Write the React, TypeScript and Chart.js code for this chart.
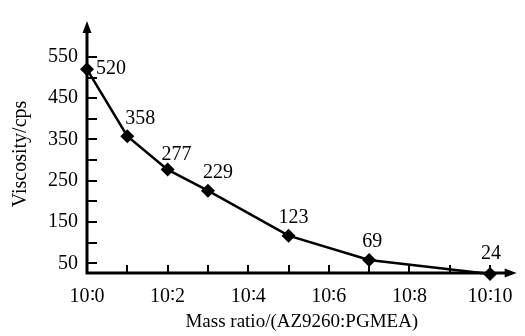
import React, { useEffect, useRef } from "react";
import { Chart, registerables } from "chart.js";

Chart.register(...registerables);

// PGMEA parts per 10 parts AZ9260
const massRatios = [0, 1, 2, 3, 5, 7, 10];
// plotted viscosity (cps) as drawn in the figure
const viscosity = [520, 358, 277, 226, 117, 58, 24];
// printed value labels
const viscosityLabels = ["520", "358", "277", "229", "123", "69", "24"];

const xTickValues = [0, 2, 4, 6, 8, 10];
const xTickLabels = ["10\u22360", "10\u22362", "10\u22364", "10\u22366", "10\u22368", "10\u223610"];
const xMinorTicks = [1, 2, 3, 4, 5, 6, 7, 8, 9, 10];
const yTickValues = [50, 150, 250, 350, 450, 550];
const yMinorTicks = [50, 100, 150, 200, 250, 300, 350, 400, 450, 500, 550];

const xTitle = "Mass ratio/(AZ9260:PGMEA)";
const yTitle = "Viscosity/cps";

const FONT = "'Liberation Serif', 'Times New Roman', serif";
const LABEL_OFFSETS: [number, number][] = [
  [24, -1],
  [13, -17],
  [9, -15],
  [10, -18],
  [5, -18],
  [3, -18],
  [1, -20],
];

const axesPlugin = {
  id: "axesPlugin",
  beforeDatasetsDraw(chart: any) {
    const { ctx, chartArea } = chart;
    const { left, right, top, bottom } = chartArea;
    const xs = chart.scales.x;
    const ys = chart.scales.y;
    ctx.save();
    ctx.strokeStyle = "#000";
    ctx.fillStyle = "#000";
    // ticks (inside)
    ctx.lineWidth = 2;
    ctx.beginPath();
    for (const v of yMinorTicks) {
      const py = Math.round(ys.getPixelForValue(v));
      ctx.moveTo(left, py);
      ctx.lineTo(left + 10, py);
    }
    for (const v of xMinorTicks) {
      const px = Math.round(xs.getPixelForValue(v));
      ctx.moveTo(px, bottom);
      ctx.lineTo(px, bottom - 8);
    }
    ctx.stroke();
    // axis lines
    ctx.lineWidth = 3;
    ctx.beginPath();
    ctx.moveTo(left, bottom + 1.5);
    ctx.lineTo(left, top + 10);
    ctx.moveTo(left - 1.5, bottom);
    ctx.lineTo(right - 9, bottom);
    ctx.stroke();
    // arrowheads
    ctx.beginPath();
    ctx.moveTo(left, top);
    ctx.lineTo(left - 4.5, top + 12);
    ctx.lineTo(left + 4.5, top + 12);
    ctx.closePath();
    ctx.fill();
    ctx.beginPath();
    ctx.moveTo(right, bottom);
    ctx.lineTo(right - 12, bottom - 4.5);
    ctx.lineTo(right - 12, bottom + 4.5);
    ctx.closePath();
    ctx.fill();
    ctx.restore();
  },
  afterDraw(chart: any) {
    const { ctx, chartArea } = chart;
    const meta = chart.getDatasetMeta(0);
    ctx.save();
    ctx.fillStyle = "#000";
    ctx.font = `20px ${FONT}`;
    ctx.textAlign = "center";
    ctx.textBaseline = "middle";
    meta.data.forEach((pt: any, i: number) => {
      const [dx, dy] = LABEL_OFFSETS[i];
      ctx.fillText(viscosityLabels[i], pt.x + dx, pt.y + dy);
    });
    // axis titles
    ctx.font = `19px ${FONT}`;
    ctx.fillText(xTitle, (chartArea.left + chartArea.right) / 2, 322);
    ctx.save();
    ctx.translate(21, 154);
    ctx.rotate(-Math.PI / 2);
    ctx.font = `20px ${FONT}`;
    ctx.fillText(yTitle, 0, 0);
    ctx.restore();
    ctx.restore();
  },
};

export default function App() {
  const ref = useRef<HTMLCanvasElement | null>(null);
  useEffect(() => {
    if (!ref.current) return;
    const chart = new Chart(ref.current, {
      type: "line",
      data: {
        datasets: [
          {
            data: massRatios.map((x, i) => ({ x, y: viscosity[i] })),
            borderColor: "#000",
            backgroundColor: "#000",
            borderWidth: 2.5,
            pointStyle: "rectRot",
            pointRadius: 7,
            pointBorderWidth: 0,
            tension: 0,
            clip: false as any,
          },
        ],
      },
      options: {
        animation: false,
        responsive: false,
        devicePixelRatio: 1,
        layout: { padding: { top: 13, right: 0, left: 0, bottom: 0 } },
        plugins: { legend: { display: false }, tooltip: { enabled: false }, title: { display: false } },
        scales: {
          x: {
            type: "linear",
            min: 0,
            max: 10.66,
            grid: { display: false, drawTicks: false },
            border: { display: false },
            afterBuildTicks: (s: any) => {
              s.ticks = xTickValues.map((v) => ({ value: v }));
            },
            afterFit: (s: any) => {
              s.height = 63;
            },
            ticks: {
              autoSkip: false,
              maxRotation: 0,
              padding: 12,
              color: "#000",
              font: { family: FONT, size: 20 },
              callback: (v: any) => xTickLabels[xTickValues.indexOf(Number(v))],
            },
          },
          y: {
            type: "linear",
            min: 26.5,
            max: 637,
            grid: { display: false, drawTicks: false },
            border: { display: false },
            afterBuildTicks: (s: any) => {
              s.ticks = yTickValues.map((v) => ({ value: v }));
            },
            afterFit: (s: any) => {
              s.width = 87;
            },
            ticks: {
              autoSkip: false,
              padding: 9,
              color: "#000",
              font: { family: FONT, size: 20 },
              callback: (v: any) => String(v),
            },
          },
        },
      },
      plugins: [axesPlugin],
    });
    return () => chart.destroy();
  }, []);
  return (
    <div style={{ position: "absolute", left: 0, top: 0, width: 525, height: 336, background: "#fff" }}>
      <canvas ref={ref} width={525} height={336} style={{ width: 525, height: 336 }} />
    </div>
  );
}
